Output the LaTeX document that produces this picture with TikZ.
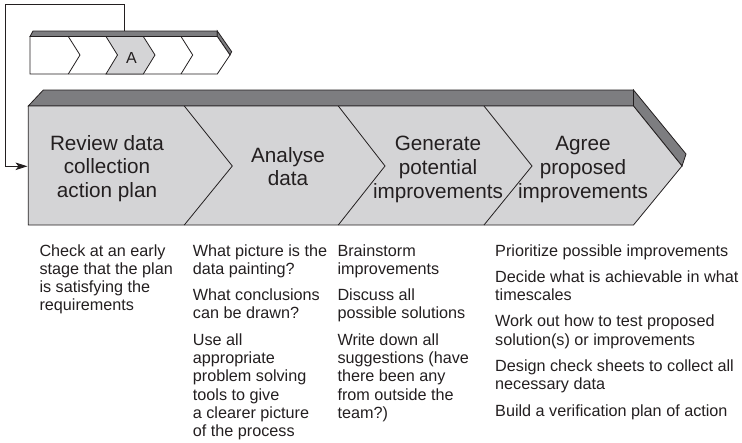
\documentclass[tikz,border=0pt]{standalone}
\usepackage{fontspec}
\setmainfont{Liberation Sans}
\usetikzlibrary{arrows.meta}
\definecolor{lightfill}{RGB}{212,212,214}
\definecolor{bandgray}{RGB}{125,125,128}
\definecolor{ink}{RGB}{35,31,32}
\newcommand{\myStepFont}{\fontsize{20.7}{23.8}\selectfont}
\newcommand{\myNoteFont}{\fontsize{16.2}{18.3}\selectfont}
\tikzset{
  outline/.style={draw=ink, line width=0.8pt, line join=miter},
  steplabel/.style={inner sep=0pt, anchor=base, text=ink},
  notetext/.style={inner sep=0pt, anchor=base west, text=ink},
}
\begin{document}
\begin{tikzpicture}[x=1pt,y=-1pt]
\useasboundingbox (0,0) rectangle (742,442);
% ---------- small chevron bar ----------
\filldraw[outline, fill=bandgray] (33,31) -- (217.3,31) -- (217.3,36.5) -- (30,36.5) -- cycle;
\filldraw[outline, fill=bandgray] (217.3,31) -- (231.7,51.7) -- (230,55) -- (217.3,36.5) -- cycle;
\filldraw[outline, fill=white] (30,36.5) -- (217.3,36.5) -- (230,55) -- (217.3,74) -- (30,74) -- cycle;
\filldraw[outline, fill=lightfill] (106,36.5) -- (143.3,36.5) -- (155,55) -- (143.3,74) -- (106,74) -- (117.5,55) -- cycle;
\draw[outline] (68.3,36.5) -- (80,55) -- (68.3,74);
\draw[outline] (181,36.5) -- (192.7,55) -- (181,74);
\node[text=ink, inner sep=0pt, font=\fontsize{16}{19}\selectfont] (a) at (131.5,57.5) {A};
% ---------- main chevron bar ----------
\filldraw[outline, fill=bandgray] (43.3,90) -- (633.5,90) -- (633.5,106) -- (28.3,106) -- cycle;
\filldraw[outline, fill=bandgray] (633.5,90) -- (686,154) -- (682,166) -- (633.5,106) -- cycle;
\filldraw[outline, fill=lightfill] (28.3,106) -- (633.5,106) -- (682,166) -- (633.5,225) -- (28.3,225) -- cycle;
\draw[outline] (184.3,106) -- (232.3,166) -- (184.3,225);
\draw[outline] (338.3,106) -- (385,166) -- (338.3,225);
\draw[outline] (484,106) -- (532,166) -- (484,225);
% ---------- feedback connector ----------
\coordinate (fbstart) at (124,31);
\coordinate (fbend) at (27.5,166.3);
\draw[ink, line width=0.9pt, -{Stealth[length=12pt,width=7.5pt,inset=3pt]}] (fbstart) |- (5,4) |- (fbend);
% ---------- step labels ----------
\node[steplabel] (s1) at (107,150) {\parbox[t]{150pt}{\myStepFont\centering Review data\\collection\\action plan}};
\node[steplabel] (s2) at (288,162) {\parbox[t]{150pt}{\myStepFont\centering Analyse\\data}};
\node[steplabel] (s3) at (438,150.5) {\parbox[t]{150pt}{\myStepFont\centering Generate\\potential\\improvements}};
\node[steplabel] (s4) at (583,150.5) {\parbox[t]{150pt}{\myStepFont\centering Agree\\proposed\\improvements}};
% ---------- notes ----------
\node[notetext] (n1) at (39.3,256) {\parbox[t]{150pt}{\raggedright\myNoteFont Check at an early\\stage that the plan\\is satisfying the\\requirements}};
\node[notetext] (n2) at (192.7,256) {\parbox[t]{150pt}{\raggedright\myNoteFont What picture is the\\data painting?\\[8pt]What conclusions\\can be drawn?\\[8pt]Use all\\appropriate\\problem solving\\tools to give\\a clearer picture\\of the process}};
\node[notetext] (n3) at (337.3,256) {\parbox[t]{150pt}{\raggedright\myNoteFont Brainstorm\\improvements\\[8pt]Discuss all\\possible solutions\\[8pt]Write down all\\suggestions (have\\there been any\\from outside the\\team?)}};
\node[notetext] (n4) at (495,256) {\parbox[t]{260pt}{\raggedright\myNoteFont Prioritize possible improvements\\[8pt]Decide what is achievable in what\\timescales\\[8pt]Work out how to test proposed\\solution(s) or improvements\\[8pt]Design check sheets to collect all\\necessary data\\[8pt]Build a verification plan of action}};
\end{tikzpicture}
\end{document}
